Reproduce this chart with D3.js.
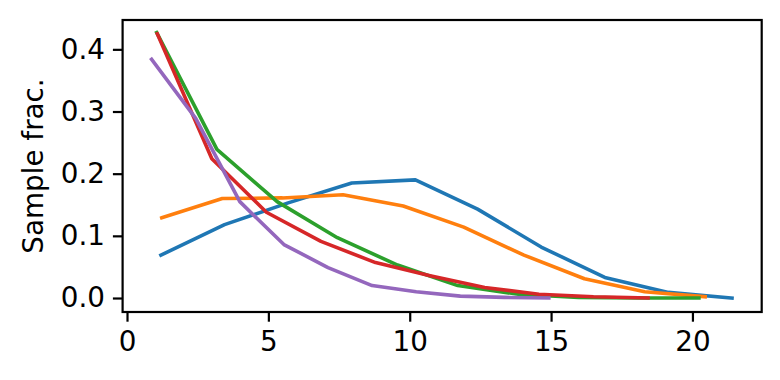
<!DOCTYPE html>
<html>
<head>
<meta charset="utf-8">
<script src="https://cdn.jsdelivr.net/npm/d3@7"></script>
<style>
    body { margin: 0; background: white; }
    text { font-family: "DejaVu Sans", sans-serif; }
</style>
</head>
<body>
<script>
// values, one pair of arrays per line
var blueX = [1.2, 3.45, 5.7, 7.95, 10.2, 12.4, 14.65, 16.9, 19.15, 21.4];
var blueY = [0.069, 0.118, 0.153, 0.185, 0.190, 0.143, 0.082, 0.033, 0.009, 0.0];
var orangeX = [1.23, 3.37, 5.5, 7.64, 9.77, 11.91, 14.04, 16.18, 18.31, 20.45];
var orangeY = [0.129, 0.160, 0.161, 0.166, 0.148, 0.114, 0.069, 0.031, 0.010, 0.002];
var greenX = [1.05, 3.18, 5.31, 7.44, 9.57, 11.7, 13.84, 15.97, 18.1, 20.23];
var greenY = [0.427, 0.239, 0.155, 0.097, 0.053, 0.020, 0.006, 0.001, 0.0, 0.0];
var redX = [1.07, 3.0, 4.93, 6.86, 8.79, 10.72, 12.65, 14.57, 16.5, 18.43];
var redY = [0.425, 0.224, 0.138, 0.091, 0.057, 0.036, 0.017, 0.006, 0.002, 0.0];
var purpleX = [0.87, 2.43, 3.99, 5.55, 7.11, 8.67, 10.23, 11.79, 13.35, 14.92];
var purpleY = [0.384, 0.289, 0.155, 0.086, 0.049, 0.020, 0.010, 0.003, 0.001, 0.0];

var xTicks = [0, 5, 10, 15, 20];
var yTicks = [0.0, 0.1, 0.2, 0.3, 0.4];
var yLabel = 'Sample frac.';

var series = [
    {x: blueX, y: blueY, color: '#1f77b4'},
    {x: orangeX, y: orangeY, color: '#ff7f0e'},
    {x: greenX, y: greenY, color: '#2ca02c'},
    {x: redX, y: redY, color: '#d62728'},
    {x: purpleX, y: purpleY, color: '#9467bd'}
];

var W = 780, H = 380;
var plotLeft = 122.6, plotRight = 761.7, plotTop = 20, plotBottom = 312;
var fontSize = 27.8;

var svg = d3.select('body').append('svg')
    .attr('width', W)
    .attr('height', H);

var x = d3.scaleLinear().domain([-0.156, 22.45]).range([plotLeft, plotRight]);
var y = d3.scaleLinear().domain([-0.0225, 0.4472]).range([plotBottom, plotTop]);

var line = d3.line()
    .x(function(d) { return x(d[0]); })
    .y(function(d) { return y(d[1]); });

series.forEach(function(s) {
    var pts = s.x.map(function(v, i) { return [v, s.y[i]]; });
    svg.append('path')
        .attr('d', line(pts))
        .style('fill', 'none')
        .style('stroke', s.color)
        .style('stroke-width', 3.6)
        .style('stroke-linejoin', 'round')
        .style('stroke-linecap', 'square');
});

var xAxis = svg.append('g')
    .attr('transform', 'translate(0,' + plotBottom + ')')
    .call(d3.axisBottom(x).tickValues(xTicks).tickFormat(d3.format('d'))
        .tickSize(9.7).tickPadding(10).tickSizeOuter(0));

var yAxis = svg.append('g')
    .attr('transform', 'translate(' + plotLeft + ',0)')
    .call(d3.axisLeft(y).tickValues(yTicks).tickFormat(d3.format('.1f'))
        .tickSize(9.7).tickPadding(8).tickSizeOuter(0));

[xAxis, yAxis].forEach(function(a) {
    a.select('.domain').remove();
    a.selectAll('line').style('stroke', 'black').style('stroke-width', 2.2);
    a.selectAll('text')
        .style('font-size', fontSize + 'px')
        .style('font-family', '"DejaVu Sans", sans-serif')
        .style('fill', 'black');
});

svg.append('rect')
    .attr('x', plotLeft)
    .attr('y', plotTop)
    .attr('width', plotRight - plotLeft)
    .attr('height', plotBottom - plotTop)
    .style('fill', 'none')
    .style('stroke', 'black')
    .style('stroke-width', 2.2);

svg.append('text')
    .attr('transform', 'translate(43,' + ((plotTop + plotBottom) / 2) + ') rotate(-90)')
    .attr('text-anchor', 'middle')
    .style('font-size', fontSize + 'px')
    .text(yLabel);
</script>
</body>
</html>
